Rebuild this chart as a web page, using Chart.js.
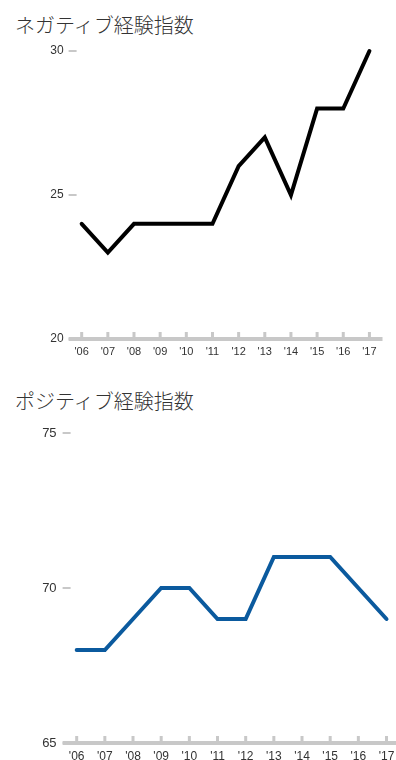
<!DOCTYPE html>
<html>
<head>
<meta charset="utf-8">
<script src="https://cdn.jsdelivr.net/npm/chart.js@4/dist/chart.umd.min.js"></script>
<style>
  html, body { margin: 0; padding: 0; background: #fff; }
  body { width: 396px; height: 760px; overflow: hidden; position: relative; }
  .title {
    position: absolute; left: 15px;
    font-family: "Noto Sans CJK JP", "Noto Sans", sans-serif;
    font-weight: 300; font-size: 20px; line-height: 20px; color: #333;
    white-space: nowrap;
  }
  .box { position: absolute; left: 0; }
</style>
</head>
<body>
<div class="title" style="top:15px">ネガティブ経験指数</div>
<div class="box" style="top:0; width:396px; height:370px"><canvas id="negChart"></canvas></div>
<div class="title" style="top:391px">ポジティブ経験指数</div>
<div class="box" style="top:380px; width:410px; height:380px"><canvas id="posChart"></canvas></div>
<script>
// data
const years = ["'06", "'07", "'08", "'09", "'10", "'11", "'12", "'13", "'14", "'15", "'16", "'17"];
const negativeIndex = [24, 23, 24, 24, 24, 24, 26, 27, 25, 28, 28, 30];
const positiveIndex = [68, 68, 69, 70, 70, 69, 69, 71, 71, 71, 70, 69];
const negativeTicks = [20, 25, 30];
const positiveTicks = [65, 70, 75];

// short grey dashes for the y ticks, little upward ticks on a thick base line
const axisDecor = {
    id: 'axisDecor',
    afterDraw(chart) {
        const { ctx, chartArea } = chart;
        const xs = chart.scales.x, ys = chart.scales.y;
        const seg = (x1, y1, x2, y2) => { ctx.beginPath(); ctx.moveTo(x1, y1); ctx.lineTo(x2, y2); ctx.stroke(); };
        ctx.save();
        ctx.strokeStyle = '#c8c8c8';
        ctx.lineWidth = 2;
        ys.ticks.forEach((t, i) => {
            const py = ys.getPixelForTick(i);
            seg(chartArea.left, py, chartArea.left + 8, py);
        });
        ctx.lineWidth = 3;
        xs.ticks.forEach((t, i) => {
            const px = xs.getPixelForTick(i);
            seg(px, chartArea.bottom - 7, px, chartArea.bottom);
        });
        ctx.lineWidth = 4;
        seg(chartArea.left, chartArea.bottom, chartArea.right, chartArea.bottom);
        ctx.restore();
    }
};

function makeChart(id, values, ticks, color, opt) {
    const ctx = document.getElementById(id).getContext('2d');
    return new Chart(ctx, {
        type: 'line',
        data: {
            labels: years,
            datasets: [{
                data: values,
                borderColor: color,
                borderWidth: 4,
                borderCapStyle: 'round',
                borderJoinStyle: 'miter',
                pointRadius: 0,
                tension: 0,
                fill: false,
                clip: false
            }]
        },
        options: {
            responsive: true,
            maintainAspectRatio: false,
            animation: false,
            events: [],
            layout: { padding: { top: opt.top, right: opt.right, left: 0, bottom: 0 } },
            plugins: { legend: { display: false }, tooltip: { enabled: false } },
            scales: {
                x: {
                    offset: true,
                    grid: { display: false, drawTicks: false },
                    border: { display: false },
                    ticks: {
                        padding: 6, maxRotation: 0, autoSkip: false,
                        color: '#333',
                        font: { family: '"Liberation Sans", Arial, sans-serif', size: opt.xFont }
                    },
                    afterFit(scale) { scale.height = opt.xHeight; }
                },
                y: {
                    min: ticks[0],
                    max: ticks[ticks.length - 1],
                    afterBuildTicks(scale) { scale.ticks = ticks.map(v => ({ value: v })); },
                    grid: { display: false, drawTicks: false },
                    border: { display: false },
                    ticks: {
                        padding: opt.yPad,
                        color: '#333',
                        font: { family: '"Liberation Sans", Arial, sans-serif', size: opt.yFont }
                    },
                    afterFit(scale) { scale.width = opt.yWidth; }
                }
            }
        },
        plugins: [axisDecor]
    });
}

makeChart('negChart', negativeIndex, negativeTicks, '#000000',
    { top: 51, right: 13.5, xHeight: 31, yWidth: 68.6, yPad: 5, xFont: 11, yFont: 12 });
makeChart('posChart', positiveIndex, positiveTicks, '#0b5a9e',
    { top: 53, right: 9.4, xHeight: 17, yWidth: 62.6, yPad: 6, xFont: 12, yFont: 13 });
</script>
</body>
</html>
